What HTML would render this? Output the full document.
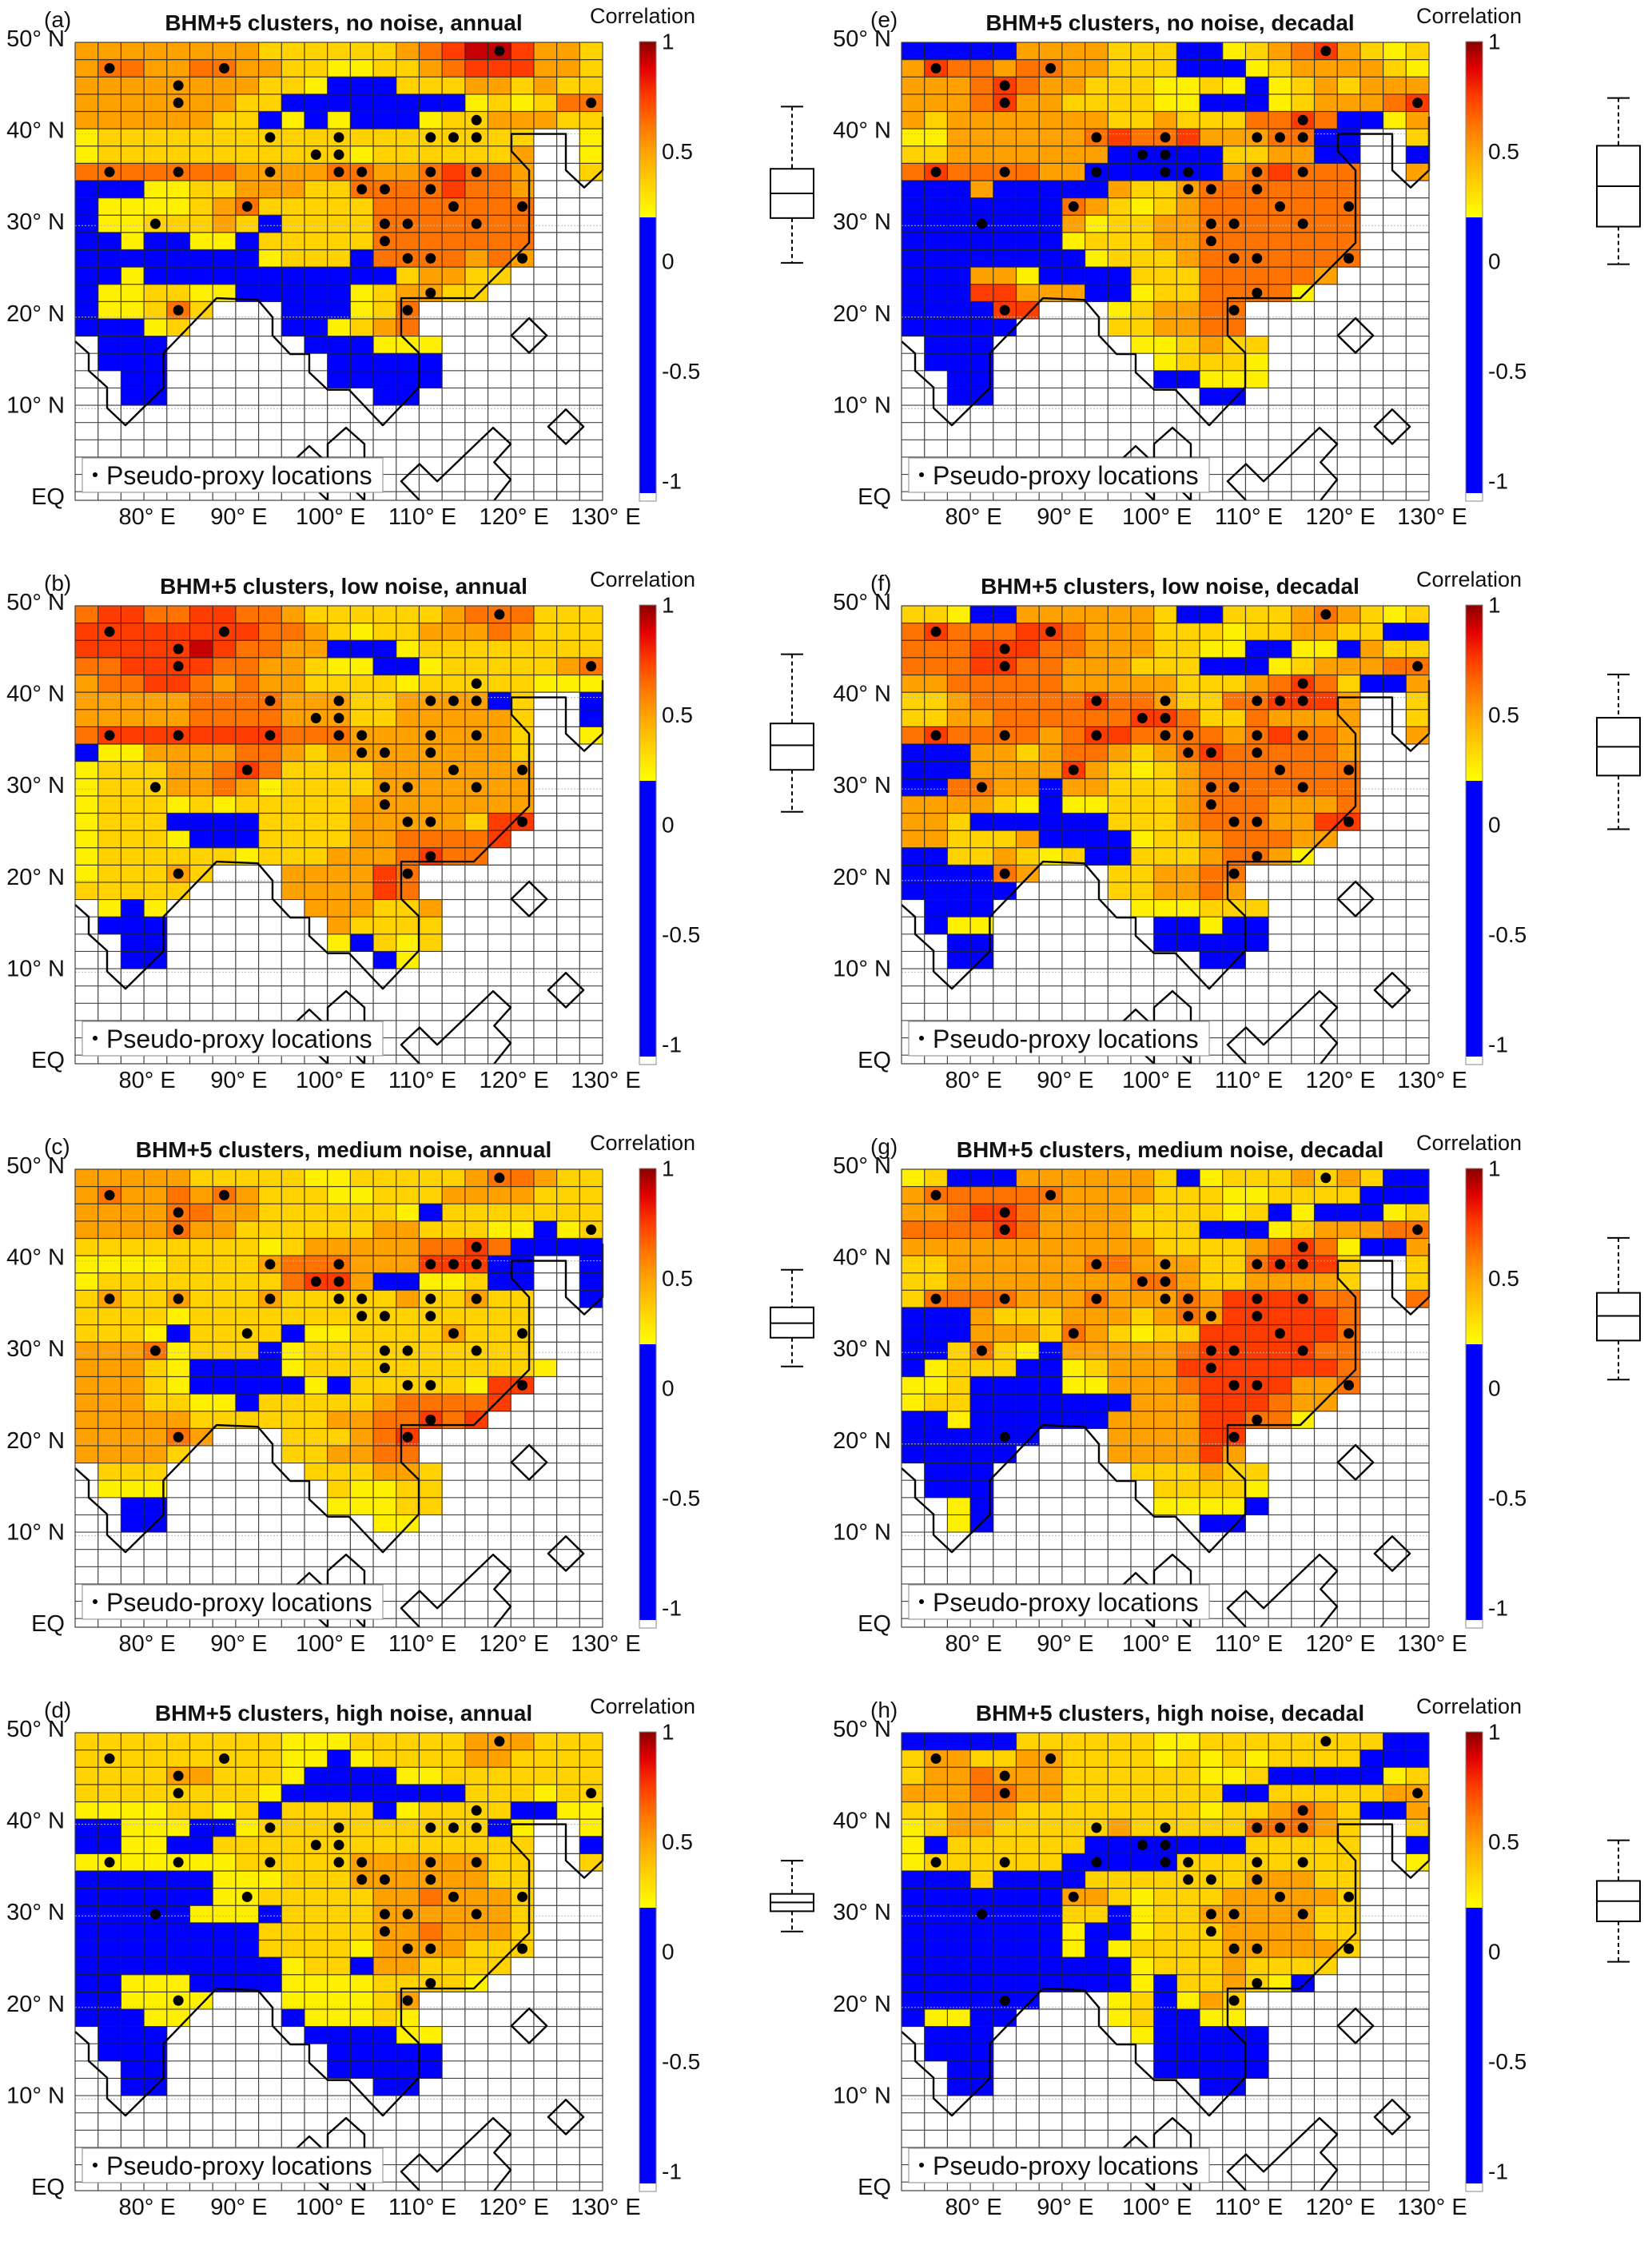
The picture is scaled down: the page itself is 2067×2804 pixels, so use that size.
<!DOCTYPE html>
<html><head><meta charset="utf-8"><title>BHM+5 clusters correlation maps</title>
<style>html,body{margin:0;padding:0;background:#fff}svg{display:block}text{font-family:"Liberation Sans",Arial,sans-serif;fill:#111}</style>
</head><body>
<svg id="fig" xmlns="http://www.w3.org/2000/svg" width="2067" height="2804" viewBox="0 0 2067 2804">
<defs>
<linearGradient id="cbg" x1="0" y1="1" x2="0" y2="0">
<stop offset="0" stop-color="#ffff00"/><stop offset="0.1875" stop-color="#ffd200"/><stop offset="0.375" stop-color="#ffa200"/><stop offset="0.525" stop-color="#ff7400"/><stop offset="0.6875" stop-color="#ff3c00"/><stop offset="0.85" stop-color="#e00000"/><stop offset="1" stop-color="#8b0000"/>
</linearGradient>
</defs>
<rect x="0" y="0" width="2067" height="2804" fill="#fff"/>
</svg>
<script>
// ---- data: cell codes per panel (rows from 50N southwards, 23 columns from 72.5E) ----
const gridA = ["ooooooooggggggodrmmroog","oddooddooggyyggodrrroog","ooooooooggyBBBgggoogogg","oooooooggBBBBBBBBygygdd","ooooooggByByBBByggooogg","yggggggggggggggggggg..y","ygggggggggggyggggggo..y","dddddddooooddoodrddo..g","BBByyggoooggddddrddo...","Byyyygodgggggddddddd...","ByygggogBggggddddddd...","BByBByyBgggggddddddd...","BBBBBBBBygggBddddodo...","BByBBBBBBBBBBBgoogg....","ByyggyyBBBBBygoogg.....","Byygdg...BBBygd........","BBByg....BBygod........",".BBB......BBByyy.......",".BBB.......BBBBB.......","..BB.......BBBBB.......","..BB.........BB........"];
const gridB = ["drrddrrddoggggggodddggg","rrrrrrrrddogyggooodoggg","rrrrrmrddooBBBygggggggg","ddrrrrddoogyyBBygggggod","oddrrdodooggggygggggyyy","oooooddddoooggooooBg..B","oooooddddoooggooooog..B","drrrrrrrrdddooooooog..y","Byyooooddogoooooooog...","ygggoodrdggggooooooo...","ygggoodoyggggooooooo...","ygggygygggggoooooooo...","ygggBBBBggggooooogrr...","ygggyBBBggggooddddr....","yggggggygggooodrdd.....","ygggog...oooord........","ggggg....oooord........",".yBy......oooggo.......",".BBB.......ogggg.......","..BB.......yBgyg.......","..BB.........By........"];
const gridC = ["ooooogggggyygggggoddogg","odoododogggyygggooooggg","ooooddooggggggyBggggggg","oooodooggggggoogggyyByg","ggggggggygoooooddrdBBBB","yyyyggggodddooorrrBB..B","yggggggggdrroBByygBB..B","goggogggogggggoggogg..B","ggggyggggggggggggggg...","gggyBggggByyggggoggg...","ooodygggBygggggggggg...","ooogyBBBByggggggggggy...","ooogyBBBBByBgggggyrr...","oooggyyBgggggoddddr....","oooooggggggooddrdr.....","oooodo...gggodr........","oooog....ggoodd........",".ggg......gggoog.......",".yyy.......gyygg.......","..BB.......yyygg.......","..BB.........yy........"];
const gridD = ["gggggggggyyygggggoooggg","gggggggggyyByggggoogggg","ggggoogggyBBBByyggggggg","ggggggggyBBBBBBBBgggygg","yyyyggygBggggByggggBByy","BByyyBByggggggggggBy..y","BByyBBgggggggggggggg..B","yyyyyyygggggoooooogg..g","BBBBBByyygggoooooogg...","BBBBBByygggggoodooog...","BBBBByyyBggggoooooog...","BBBBBBBBgggggoodooog...","BBBBBBBBggggyooooggg...","BBBBBBBBByggBoogggg....","BByyyBBBByyyyggggy.....","BByyyy...yyyygo........","BBByy....Byyygy........",".BBB......BBBByy.......",".BBB.......BBBBB.......","..BB.......BBBBB.......","..BB.........BB........"];
const gridE = ["BBBBBoooogggBBygodrogyg","orddoddoogggBBBygoooogy","ooodrdoogggyygyBygogooo","ooodrooggggyyBBBygooodr","ogoooooooggogggddrdBByo","yyoooooodrddroooddBB..g","ggoooooooBBBBBggooBB..B","drddddooBBBBBBodrddd..o","BBBoBBBBBoggoddddddd...","BBBBBBBdogygoddddddd...","BBBBBBBoyggooddddddd...","BBBBBBBygggooddddddd...","BBBBBBBBygggoddddddd...","BBBooyBBBBgggdddddo....","BBBrroooBByggddddy.....","BBBBrr...ygoodd........","BBBBB....ggoodd........",".BBB......yygogg.......",".BBB.......ygggy.......","..BB.......BByyy.......","..BB.........BB........"];
const gridF = ["ggyBBoooooogBBgggodogyg","drdddrrdooogggyggooggBB","dddrrrddoooggyyBByyBogg","dddrrddooogggBBBygooodd","oodddddooooogggodrdgBBo","ggodddddrddoggddrrro..g","ggooddddddrrdggdoooo..g","drddddodrrddddodrddo..o","BBBoogoddogodrdddddo...","BBBoooorogygoddddddd...","BBddooBoogggoddddddd...","oooogyByygggodddoood...","oogBBBBBBgggodddoorr...","oogggoBBBByggodddoo....","BBggogygBBgggoddoy.....","BBBBdo...ggoodd........","BBBBB....ggoodo........",".BBB......yyyggg.......",".Byy.......BByBB.......","..BB.......BBBBB.......","..BB.........BB........"];
const gridG = ["ygBBBoooooogBygggogogBB","oddddddoooogggyyggggBBB","oodrrdooooggggygByBBByg","ddddrdoooogggBBBygooodd","oooooooooooggggodrdyBBo","ggooooooddoooggdrrrg..g","ggooooooooddoggoooog..g","gddddooodooodorrrrdd..d","BBBogggooogodorrrrrd...","BBBooogdogyggrrrrrrd...","BBgdgyBooooodrrrrrdd...","BygggBBygooorrrrrrrd...","yygBBBByyooodrrrrood...","yggBBBBBBBooorrrdoo....","BByBBBBBBoooorrddy.....","BBBBBB...oooorr........","BBBBB....ooooro........",".BBB......gggogg.......",".BBB.......ggggy.......","..yB.......yyyyB.......","..yB.........BB........"];
const gridH = ["BBBBBggggggyyggggggggBB","googgooggggygygyggggBBB","goodoooggggggyygBBBBByg","oooddoogggggggBBgggggoo","ggoooggggggggyggodogBBo","ygoogggggogggggdddog..g","yBggggggBBBBBBBggggg..B","yggggggBBBBBgggggggg..y","BBBgBBBBgggggggooogg...","BBBBBBBoogygggooooog...","BBBBBBBggByggooooogg...","BBBBBBByBBygggoooogg...","BBBBBBByByggggooooog...","BBBBBBBBBBygggogggg....","BBBBBBBBBByBggogyB.....","BBBBBB...ygByog........","ByyBB....ygBByy........",".BBB......yBBBBB.......",".BBB.......BBBBB.......","..BB.......BBBBB.......","..BB.........BB........"];
// representative correlation value of each colour class
const codeValue = {B:0.0, y:0.25, g:0.35, o:0.5, d:0.62, r:0.75, m:0.92};
// pseudo-proxy locations (grid row / column)
const proxyRow = [1,1,2,3,0,3,4,5,5,5,5,5,6,6,7,7,7,7,7,7,7,8,8,8,9,9,9,10,10,10,10,11,12,12,12,14,15,15];
const proxyCol = [1,6,4,4,18,22,17,8,11,15,16,17,10,11,1,4,8,11,12,15,17,12,13,15,7,16,19,3,13,14,17,13,14,15,19,15,4,14];
// box plot statistics per panel (a..h)
const boxHigh = [0.704,0.776,0.539,0.414,0.743,0.684,0.684,0.507];
const boxQ3   = [0.421,0.461,0.368,0.263,0.526,0.487,0.434,0.322];
const boxMed  = [0.309,0.362,0.296,0.224,0.342,0.355,0.329,0.230];
const boxQ1   = [0.197,0.250,0.230,0.184,0.158,0.224,0.217,0.138];
const boxLow  = [-0.007,0.059,0.099,0.092,-0.013,-0.020,0.039,-0.046];
const panelLetters = ["(a)","(b)","(c)","(d)","(e)","(f)","(g)","(h)"];
const panelTitles = ["BHM+5 clusters, no noise, annual","BHM+5 clusters, low noise, annual","BHM+5 clusters, medium noise, annual","BHM+5 clusters, high noise, annual","BHM+5 clusters, no noise, decadal","BHM+5 clusters, low noise, decadal","BHM+5 clusters, medium noise, decadal","BHM+5 clusters, high noise, decadal"];
const latTicks = [50,40,30,20,10,0];
const latLabels = ["50° N","40° N","30° N","20° N","10° N","EQ"];
const lonTicks = [80,90,100,110,120,130];
const lonLabels = ["80° E","90° E","100° E","110° E","120° E","130° E"];
const cbTicks = [1,0.5,0,-0.5,-1];
const cbLabels = ["1","0.5","0","-0.5","-1"];

const grids = [gridA,gridB,gridC,gridD,gridE,gridF,gridG,gridH];
const NS = "http://www.w3.org/2000/svg";
const svg = document.getElementById("fig");
function mk(tag, attrs, parent){
  const e = document.createElementNS(NS, tag);
  for (const k in attrs) e.setAttribute(k, attrs[k]);
  (parent || svg).appendChild(e);
  return e;
}
const MAPX = 94, MAPY = 53, MAPW = 660, MAPH = 573, NCOL = 23, NROW = 26.5;
const CW = MAPW / NCOL, RH = MAPH / NROW;
const stops = [[0.2,[255,255,0]],[0.35,[255,210,0]],[0.5,[255,162,0]],[0.62,[255,116,0]],[0.75,[255,60,0]],[0.88,[224,0,0]],[1,[139,0,0]]];
function colorOf(v){
  if (v < 0.2) return "#0000ff";
  for (let i = 1; i < stops.length; i++){
    if (v <= stops[i][0]){
      const a = stops[i-1], b = stops[i], t = (v - a[0]) / (b[0] - a[0]);
      const c = a[1].map((x, j) => Math.round(x + (b[1][j] - x) * t));
      return "rgb(" + c.join(",") + ")";
    }
  }
  return "#8b0000";
}
const COAST = "M1510,335 L1510,490 L1460,540 L1410,490 L1410,385 L1262,385 L1262,435 L1310,490 L1310,700 L1160,860 L962,860 L962,968 L1010,1018 L1010,1118 L912,1228 L820,1125 L762,1125 L712,1075 L712,1022 L660,1022 L612,968 L612,915 L572,865 L460,860 L315,1020 L315,1120 L212,1228 L162,1178 L162,1118 L112,1070 L112,1020 L75,985 M1310,918 L1358,968 L1310,1018 L1262,968 Z M1410,1182 L1458,1232 L1410,1282 L1362,1232 Z M675,1325 L712,1288 L762,1338 M762,1445 L762,1282 L812,1235 L862,1282 L862,1445 M712,1395 L762,1445 M820,1400 L862,1445 M1012,1445 L962,1390 L1012,1340 L1060,1390 L1212,1235 L1260,1282 L1215,1335 L1260,1385 L1215,1445";

for (let p = 0; p < 8; p++){
  const ox = p < 4 ? 0 : 1034;
  const oy = (p % 4) * 705;
  const grid = grids[p];
  const xCol = c => ox + MAPX + c * CW;
  const yRow = r => oy + MAPY + r * RH;
  const xLon = lon => ox + MAPX + (lon - 72.5) / 57.5 * MAPW;
  const yLat = lat => oy + MAPY + (50 - lat) / 50 * MAPH;
  const yVal = v => oy + 327 - v * 275;

  const g = mk("g", {});
  
  
  const bg = mk("rect", {x: xCol(0), y: yRow(0), width: MAPW, height: MAPH, fill: "#fff"}, g);
  
  
  for (let r = 0; r < grid.length; r++){
    for (let c = 0; c < NCOL; c++){
      const code = grid[r][c];
      if (!code || code === ".") continue;
      const cell = mk("rect", {x: xCol(c), y: yRow(r), width: CW + 0.3, height: RH + 0.3, fill: colorOf(codeValue[code])}, g);
      
      
    }
  }
  for (const lat of [40,30,20,10]){
    const ll = mk("line", {x1: xCol(0), x2: xCol(NCOL), y1: yLat(lat), y2: yLat(lat), stroke: "#b8b8b8", "stroke-width": 1, "stroke-dasharray": "2,2"}, g);
    
    
  }
  let d = "";
  for (let c = 0; c <= NCOL; c++) d += "M" + xCol(c) + "," + yRow(0) + "V" + yRow(NROW);
  for (let r = 0; r <= 26; r++) d += "M" + xCol(0) + "," + yRow(r) + "H" + xCol(NCOL);
  d += "M" + xCol(0) + "," + yRow(NROW) + "H" + xCol(NCOL);
  const gl = mk("path", {d: d, stroke: "#222", "stroke-width": 1.2, fill: "none", opacity: 0.85}, g);
  
  
  const sx = MAPW / 1435, sy = MAPH / 1325;
  const coast = mk("path", {d: COAST, fill: "none", stroke: "#000", "stroke-width": 2.4, "vector-effect": "non-scaling-stroke", "stroke-linejoin": "round",
    transform: "translate(" + (ox + MAPX) + "," + (oy + MAPY) + ") scale(" + sx + "," + sy + ") translate(-75,-120)"}, g);
  
  
  for (let i = 0; i < proxyRow.length; i++){
    const dot = mk("circle", {cx: xCol(proxyCol[i] + 0.5), cy: yRow(proxyRow[i] + 0.5), r: 6.5, fill: "#000"}, g);
    
    
  }
  const leg = mk("g", {}, g);
  
  
  const lb = mk("rect", {x: ox + 103, y: oy + 573, width: 376, height: 43, fill: "#fff", stroke: "#9a9a9a", "stroke-width": 1.2}, leg);
  
  
  const ld = mk("circle", {cx: ox + 119, cy: oy + 594, r: 3, fill: "#000"}, leg);
  
  
  const lt = mk("text", {x: ox + 133, y: oy + 606, "font-size": 32}, leg);
  lt.textContent = "Pseudo-proxy locations";
  
  
  const fr = mk("rect", {x: xCol(0), y: yRow(0), width: MAPW, height: MAPH, fill: "none", stroke: "#444", "stroke-width": 1}, g);
  
  
  const pl = mk("text", {x: ox + 55, y: oy + 34, "font-size": 28});
  pl.textContent = panelLetters[p];
  
  
  const tt = mk("text", {x: ox + 430, y: oy + 38, "font-size": 28, "font-weight": "bold", "text-anchor": "middle"});
  tt.textContent = panelTitles[p];
  
  
  for (let i = 0; i < latTicks.length; i++){
    const t = mk("text", {x: ox + 81, y: yLat(latTicks[i]) - 4, "font-size": 29, "text-anchor": "end", "dominant-baseline": "central"});
    t.textContent = latLabels[i];
    
    
  }
  for (let i = 0; i < lonTicks.length; i++){
    const t = mk("text", {x: xLon(lonTicks[i]) + 4, y: oy + 656, "font-size": 29, "text-anchor": "middle"});
    t.textContent = lonLabels[i];
    
    
  }
  const cbx = ox + 800, cbw = 21;
  const cw1 = mk("rect", {x: cbx, y: yVal(1), width: cbw, height: yVal(0.2) - yVal(1), fill: "url(#cbg)"});
  
  
  const cb2 = mk("rect", {x: cbx, y: yVal(0.2), width: cbw, height: oy + 617 - yVal(0.2), fill: "#0000ff"});
  
  
  const cbo = mk("rect", {x: cbx, y: yVal(1), width: cbw, height: oy + 627 - yVal(1), fill: "none", stroke: "#8a8a8a", "stroke-width": 1});
  
  
  for (let i = 0; i < cbTicks.length; i++){
    const t = mk("text", {x: ox + 828, y: yVal(cbTicks[i]), "font-size": 28, "dominant-baseline": "central"});
    t.textContent = cbLabels[i];
    
    
  }
  const ct = mk("text", {x: ox + 738, y: oy + 29, "font-size": 27});
  ct.textContent = "Correlation";
  
  
  const bx = ox + 991;
  const bp = mk("g", {stroke: "#000", "stroke-width": 2, fill: "none"});
  
  
  const w1 = mk("line", {x1: bx, x2: bx, y1: yVal(boxHigh[p]), y2: yVal(boxQ3[p]), "stroke-dasharray": "5,4"}, bp);
  
  
  const w2 = mk("line", {x1: bx, x2: bx, y1: yVal(boxQ1[p]), y2: yVal(boxLow[p]), "stroke-dasharray": "5,4"}, bp);
  
  
  const c1 = mk("line", {x1: bx - 14, x2: bx + 14, y1: yVal(boxHigh[p]), y2: yVal(boxHigh[p])}, bp);
  
  
  const c2 = mk("line", {x1: bx - 14, x2: bx + 14, y1: yVal(boxLow[p]), y2: yVal(boxLow[p])}, bp);
  
  
  const bxr = mk("rect", {x: bx - 27, y: yVal(boxQ3[p]), width: 54, height: yVal(boxQ1[p]) - yVal(boxQ3[p]), fill: "#fff"}, bp);
  
  
  const md = mk("line", {x1: bx - 27, x2: bx + 27, y1: yVal(boxMed[p]), y2: yVal(boxMed[p])}, bp);
  
  
}
</script>
</body></html>
